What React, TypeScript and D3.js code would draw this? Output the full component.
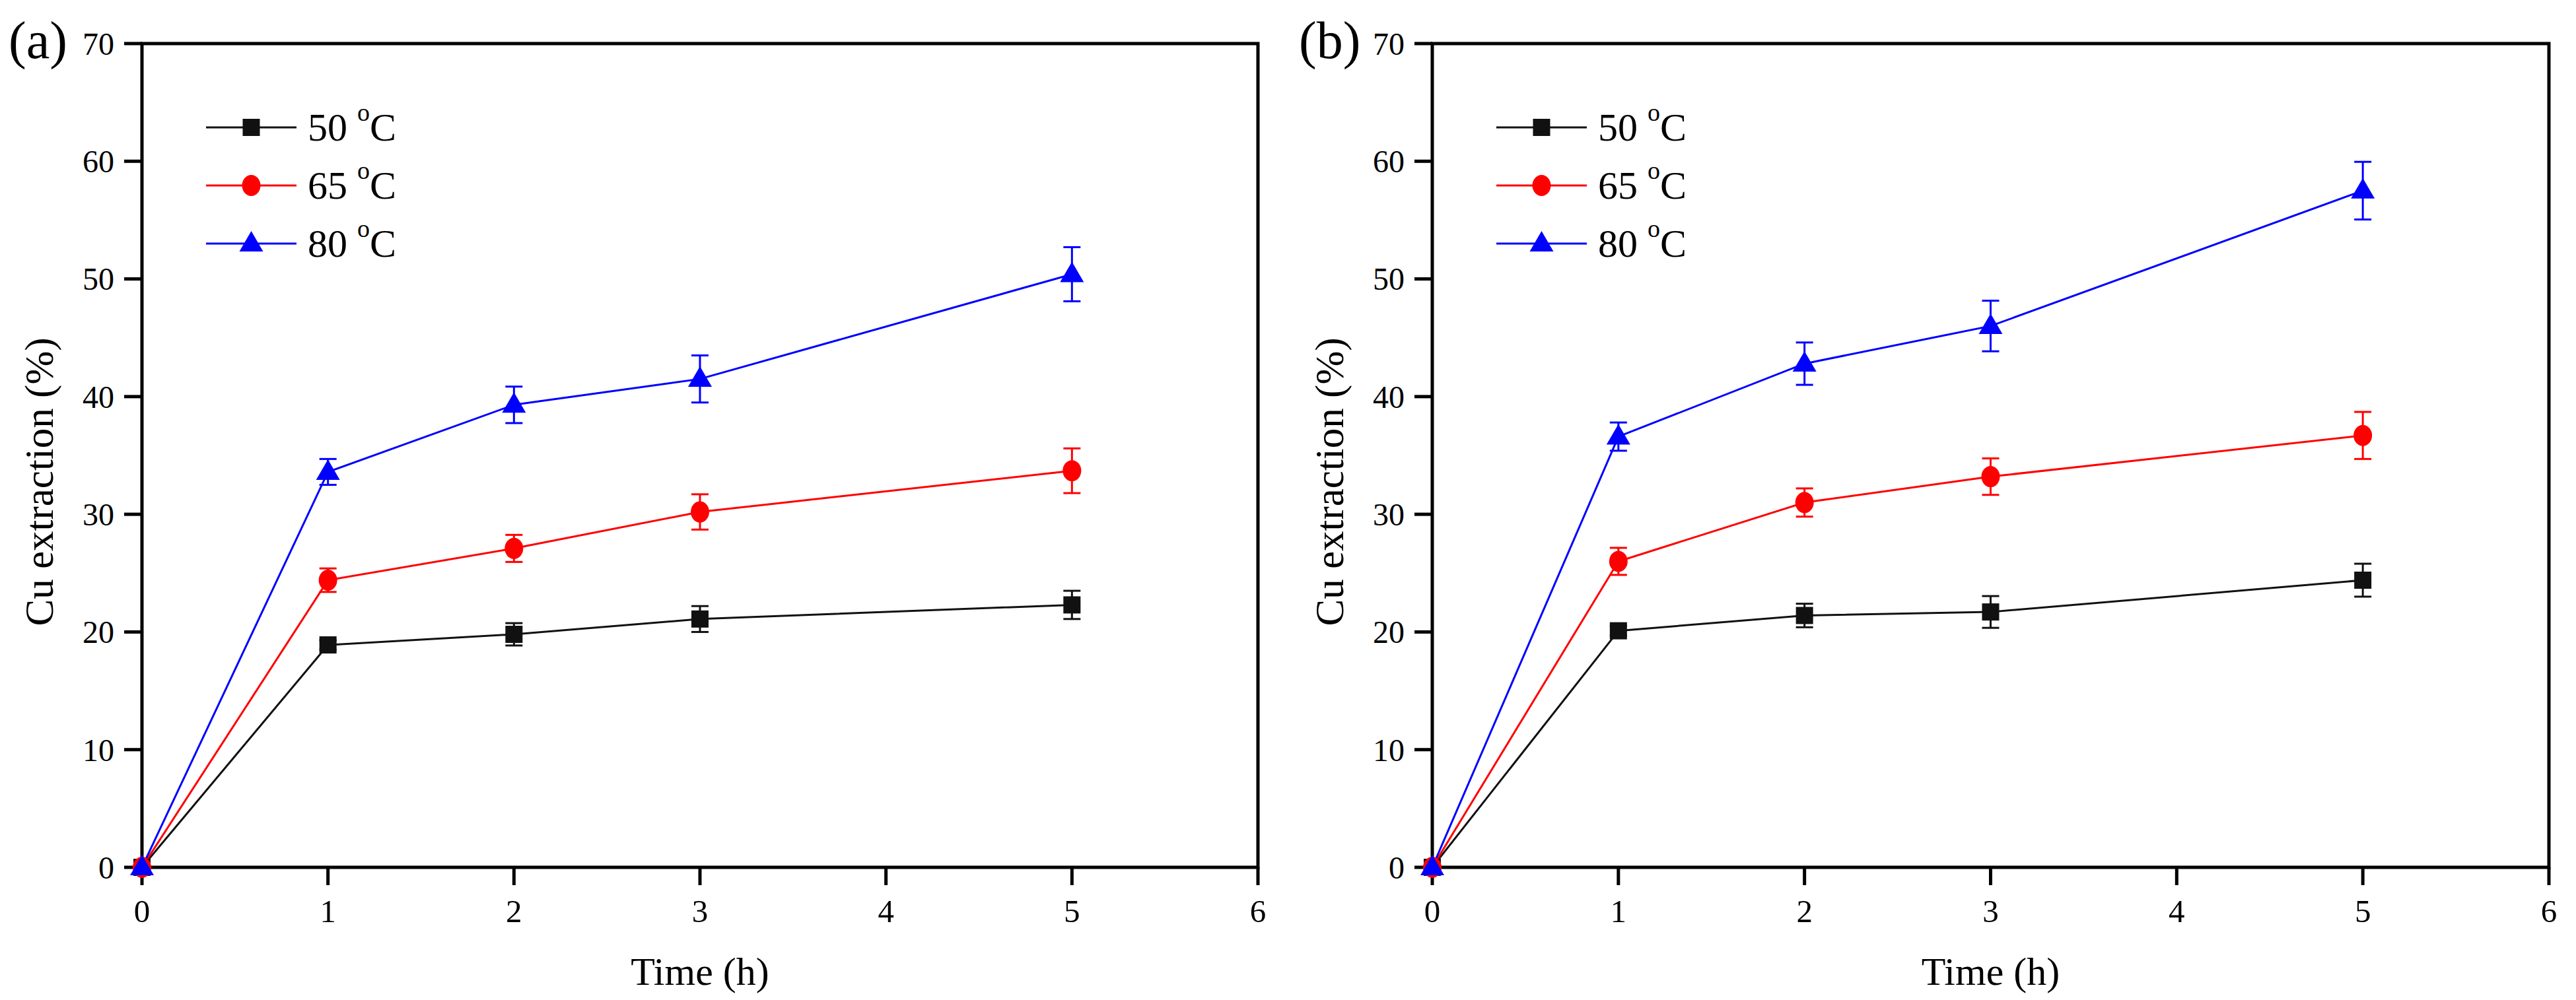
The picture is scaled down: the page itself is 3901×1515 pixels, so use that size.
import React from "react";
import * as d3 from "d3";

const times = [0, 1, 2, 3, 5];
const xTicks = [0, 1, 2, 3, 4, 5, 6];
const yTicks = [0, 10, 20, 30, 40, 50, 60, 70];
const seriesNames = ["50", "65", "80"];

const a50 = [0, 18.9, 19.8, 21.1, 22.3];
const a50Err = [0, 0.4, 0.95, 1.1, 1.2];
const a65 = [0, 24.4, 27.1, 30.2, 33.7];
const a65Err = [0, 1.0, 1.15, 1.5, 1.9];
const a80 = [0, 33.6, 39.3, 41.5, 50.4];
const a80Err = [0, 1.1, 1.55, 2.0, 2.3];

const b50 = [0, 20.1, 21.4, 21.7, 24.4];
const b50Err = [0, 0.4, 1.0, 1.35, 1.4];
const b65 = [0, 26.0, 31.0, 33.2, 36.7];
const b65Err = [0, 1.15, 1.2, 1.55, 2.0];
const b80 = [0, 36.6, 42.8, 46.0, 57.5];
const b80Err = [0, 1.2, 1.8, 2.15, 2.45];

const colors = ["#111111", "#ff0000", "#0000ff"];
const shapes = ["square", "circle", "triangle"];
const FONT = "'Liberation Serif', 'Times New Roman', serif";

type Series = { values: number[]; errs: number[] };

function Marker({ shape, color, x, y }: { shape: string; color: string; x: number; y: number }) {
  if (shape === "square") return <rect x={x - 13} y={y - 13} width={26} height={26} fill={color} />;
  if (shape === "circle") return <ellipse cx={x} cy={y} rx={14} ry={16} fill={color} />;
  const p = d3.path();
  p.moveTo(x, y - 19);
  p.lineTo(x + 18, y + 12);
  p.lineTo(x - 18, y + 12);
  p.closePath();
  return <path d={p.toString()} fill={color} />;
}

function Panel({ left, right, label, series }: { left: number; right: number; label: string; series: Series[] }) {
  const top = 66;
  const bottom = 1314;
  const x = d3.scaleLinear().domain([0, 6]).range([left, right]);
  const y = d3.scaleLinear().domain([0, 70]).range([bottom, top]);
  const line = d3.line<number>().x((_, i) => x(times[i])).y((v) => y(v));
  const tickLen = 27;
  const cap = 13;
  return (
    <g>
      <text x={left - 202} y={88} fontFamily={FONT} fontSize={80} fill="#000">{label}</text>
      <text
        transform={`translate(${left - 135},${(top + bottom) / 2 + 40}) rotate(-90)`}
        textAnchor="middle"
        fontFamily={FONT}
        fontSize={61}
        fill="#000"
      >
        Cu extraction (%)
      </text>
      <text x={(left + right) / 2} y={1492} textAnchor="middle" fontFamily={FONT} fontSize={60} fill="#000">
        Time (h)
      </text>
      {yTicks.map((t) => (
        <g key={"y" + t}>
          <line x1={left - tickLen} x2={left} y1={y(t)} y2={y(t)} stroke="#000" strokeWidth={5} />
          <text x={left - 42} y={y(t)} dy="0.35em" textAnchor="end" fontFamily={FONT} fontSize={48} fill="#000">
            {t}
          </text>
        </g>
      ))}
      {xTicks.map((t) => (
        <g key={"x" + t}>
          <line x1={x(t)} x2={x(t)} y1={bottom} y2={bottom + tickLen} stroke="#000" strokeWidth={5} />
          <text x={x(t)} y={1397} textAnchor="middle" fontFamily={FONT} fontSize={49} fill="#000">
            {t}
          </text>
        </g>
      ))}
      <rect x={left} y={top} width={right - left} height={bottom - top} fill="none" stroke="#000" strokeWidth={5} />
      {series.map((s, si) => (
        <g key={"s" + si}>
          <path d={line(s.values) || ""} fill="none" stroke={colors[si]} strokeWidth={3} />
          {s.values.map((v, i) =>
            s.errs[i] > 0 ? (
              <g key={"e" + i} stroke={colors[si]} strokeWidth={3}>
                <line x1={x(times[i])} x2={x(times[i])} y1={y(v - s.errs[i])} y2={y(v + s.errs[i])} />
                <line x1={x(times[i]) - cap} x2={x(times[i]) + cap} y1={y(v + s.errs[i])} y2={y(v + s.errs[i])} />
                <line x1={x(times[i]) - cap} x2={x(times[i]) + cap} y1={y(v - s.errs[i])} y2={y(v - s.errs[i])} />
              </g>
            ) : null
          )}
        </g>
      ))}
      {series.map((s, si) => (
        <g key={"m" + si}>
          {s.values.map((v, i) => (
            <Marker key={i} shape={shapes[si]} color={colors[si]} x={x(times[i])} y={y(v)} />
          ))}
        </g>
      ))}
      {seriesNames.map((n, i) => {
        const ly = 193 + i * 88;
        const lx0 = left + 97;
        const lx1 = left + 234;
        return (
          <g key={"l" + i}>
            <line x1={lx0} x2={lx1} y1={ly} y2={ly} stroke={colors[i]} strokeWidth={3} />
            <Marker shape={shapes[i]} color={colors[i]} x={(lx0 + lx1) / 2} y={ly} />
            <text x={left + 251} y={ly + 20} fontFamily={FONT} fontSize={60} fill="#000">
              {n + " "}
              <tspan fontSize={38} dy={-30}>o</tspan>
              <tspan dy={30}>C</tspan>
            </text>
          </g>
        );
      })}
    </g>
  );
}

export default function App() {
  const panelA: Series[] = [
    { values: a50, errs: a50Err },
    { values: a65, errs: a65Err },
    { values: a80, errs: a80Err },
  ];
  const panelB: Series[] = [
    { values: b50, errs: b50Err },
    { values: b65, errs: b65Err },
    { values: b80, errs: b80Err },
  ];
  return (
    <svg
      width={3901}
      height={1515}
      style={{ position: "fixed", left: 0, top: 0, background: "#fff" }}
    >
      <rect x={0} y={0} width={3901} height={1515} fill="#fff" />
      <Panel left={215} right={1905} label="(a)" series={panelA} />
      <Panel left={2169} right={3860} label="(b)" series={panelB} />
    </svg>
  );
}
